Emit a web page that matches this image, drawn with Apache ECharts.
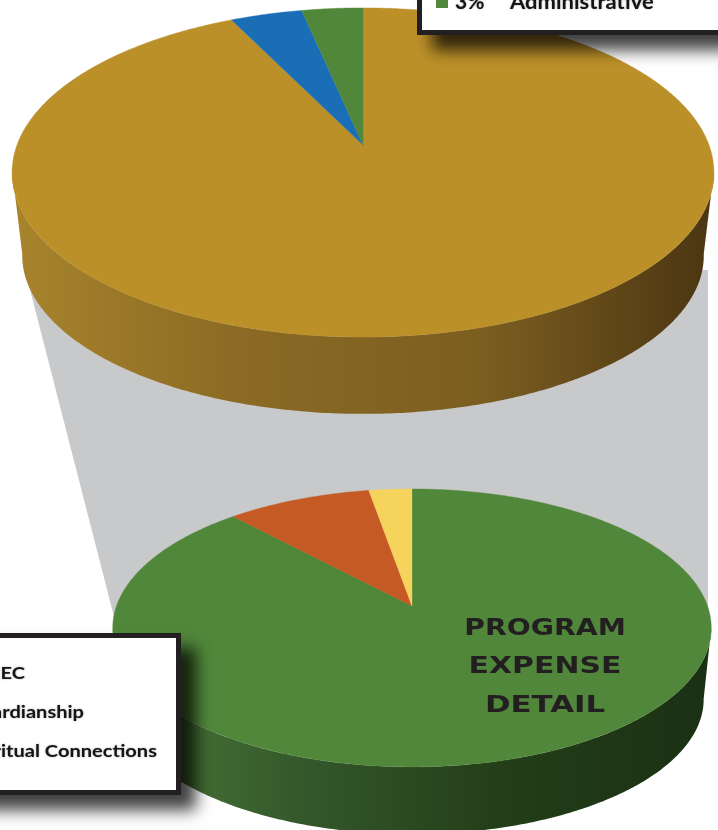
<!DOCTYPE html>
<html><head><meta charset="utf-8">
<style>html,body{margin:0;padding:0;background:#fff}#c{width:718px;height:830px}</style>
<script src="https://cdn.jsdelivr.net/npm/echarts@6/dist/echarts.min.js"></script>
</head><body><div id="c"></div>
<script>
// values (percent), clockwise from 12 o'clock
const upperCategories = ['Program', 'Fundraising', 'Administrative'];
const upperValues = [92.8, 3.9, 3.3];
const upperColors = ['#bc9029', '#1a6eb6', '#50873a'];
const lowerCategories = ['MEC', 'Guardianship', 'Spiritual Connections'];
const lowerValues = [88.2, 9.1, 2.7];
const lowerColors = ['#50873a', '#c55a24', '#f6d35c'];
const upperWall = ['#a8842c', '#8a6a24', '#7c5e20', '#4a3512'];
const lowerWall = ['#4e7a38', '#33562a', '#223d18', '#1b3014'];

const chart = echarts.init(document.getElementById('c'), null, {renderer: 'canvas'});

function mapper(g) {
  return th => {
    const u = Math.sin(th), v = Math.cos(th), w = 1 + g.k * v;
    return [g.x + g.a * u / w, g.y - g.b * v / w];
  };
}
const upperTop = {x: 363, y: 145, a: 346, b: 160, k: 0.167};
const upperBot = {x: 363, y: 229, a: 336, b: 154, k: 0.167};
const lowerTop = {x: 412, y: 606, a: 295.5, b: 135.5, k: 0.158};
const lowerBot = {x: 412, y: 678, a: 288, b: 131.5, k: 0.158};
const FRONT_START = 99 * Math.PI / 180, FRONT_END = 261 * Math.PI / 180;

function startAngles(vals) {
  const sum = vals.reduce((a, b) => a + b, 0);
  let acc = 0;
  return vals.map(v => { const s = acc; acc += v / sum * Math.PI * 2; return [s, acc]; });
}
function arc(fn, s, e) {
  const n = Math.max(4, Math.ceil((e - s) / 0.01)), pts = [];
  for (let i = 0; i <= n; i++) pts.push(fn(s + (e - s) * i / n));
  return pts;
}
function surfaceSeries(name, vals, colors, geom, z) {
  const ang = startAngles(vals), fn = mapper(geom);
  return {
    type: 'custom', name, coordinateSystem: 'none', z, silent: true,
    data: vals.map((v, i) => [v, i]),
    renderItem: (p, api) => {
      const i = api.value(1), [s, e] = ang[i];
      return {type: 'polygon',
        shape: {points: [[geom.x, geom.y]].concat(arc(fn, s, e))},
        style: {fill: colors[i], stroke: colors[i], lineWidth: 0.4}};
    }
  };
}
function wallSeries(name, vals, stops, geomT, geomB, z) {
  const ang = startAngles(vals), f = mapper(geomT), g = mapper(geomB);
  const x0 = geomT.x - geomT.a * 1.02, x1 = geomT.x + geomT.a * 1.02;
  const fill = {type: 'linear', x: x0, y: 0, x2: x1, y2: 0, global: true,
    colorStops: stops.map((c, i) => ({offset: i / (stops.length - 1), color: c}))};
  return {
    type: 'custom', name: name, coordinateSystem: 'none', z, silent: true,
    data: vals.map((v, i) => [v, i]),
    renderItem: (p, api) => {
      const i = api.value(1);
      const s = Math.max(ang[i][0], FRONT_START), e = Math.min(ang[i][1], FRONT_END);
      if (e <= s) return null;
      const a = arc(f, s, e), b = arc(g, s, e).reverse();
      return {type: 'polygon', shape: {points: a.concat(b)}, style: {fill}};
    }
  };
}
const frameStyle = {fill: '#231f20',
  shadowColor: 'rgba(0,0,0,0.75)', shadowBlur: 15, shadowOffsetX: 15, shadowOffsetY: 15};
const lgText = (t, x, y, align, size, sx) => ({type: 'text', z: 12, x, y, scaleX: sx,
  style: {text: t, font: 'bold ' + size + 'px Lato, "Open Sans", sans-serif', fill: '#141414',
    align: align, verticalAlign: 'middle',
    textShadowColor: 'rgba(0,0,0,0.35)', textShadowBlur: 2}});
const titleText = (t, y, sx) => ({type: 'text', z: 12, x: 545, y, scaleX: sx,
  style: {text: t, font: 'bold 23px "DejaVu Sans", sans-serif', fill: '#231f20',
    align: 'center', verticalAlign: 'middle'}});

chart.setOption({
  animation: false,
  backgroundColor: '#fff',
  series: [
    wallSeries('upperWall', upperValues, upperWall, upperTop, upperBot, 3),
    surfaceSeries('upper', upperValues, upperColors, upperTop, 4),
    wallSeries('lowerWall', lowerValues, lowerWall, lowerTop, lowerBot, 5),
    surfaceSeries('lower', lowerValues, lowerColors, lowerTop, 6)
  ],
  graphic: {elements: [
    {type: 'polygon', z: 1, silent: true,
      shape: {points: [[25, 270], [708, 270], [708, 640], [120, 640]]},
      style: {fill: '#c8c9cb'}},
    {type: 'rect', z: 11, shape: {x: 417, y: -30, width: 340, height: 65}, style: frameStyle},
    {type: 'rect', z: 11, shape: {x: 422, y: -30, width: 340, height: 60}, style: {fill: '#fff'}},
    {type: 'rect', z: 11, shape: {x: -40, y: 633, width: 221, height: 162}, style: frameStyle},
    {type: 'rect', z: 11, shape: {x: -40, y: 638, width: 216, height: 152}, style: {fill: '#fff'}},
    {type: 'rect', z: 12, shape: {x: 436, y: -3, width: 12, height: 11}, style: {fill: upperColors[2]}},
    lgText('3%', 455, 3, 'left', 20, 1.05),
    lgText(upperCategories[2], 510, 3, 'left', 20, 1.1),
    lgText(lowerCategories[0], 25, 674, 'right', 17, 1.18),
    lgText(lowerCategories[1], 84, 713, 'right', 17, 1.18),
    lgText(lowerCategories[2], 157, 752, 'right', 17, 1.18),
    titleText('PROGRAM', 629, 1.23),
    titleText('EXPENSE', 667, 1.3),
    titleText('DETAIL', 706, 1.34)
  ]}
});
</script></body></html>
